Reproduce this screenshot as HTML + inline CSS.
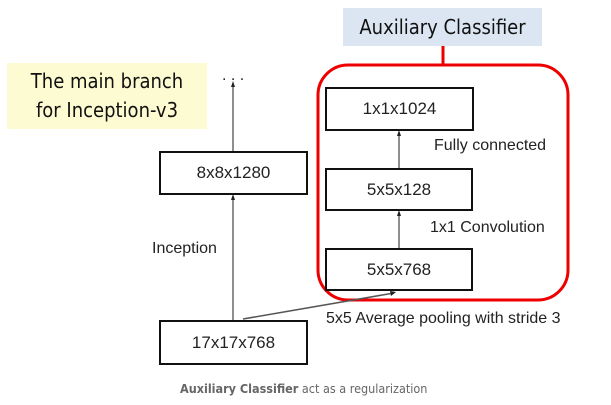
<!DOCTYPE html>
<html><head><style>
body{margin:0;width:611px;height:405px;background:#fff;overflow:hidden;position:relative;font-family:"Liberation Sans",sans-serif}
.a{position:absolute}
.box{position:absolute;border:2.5px solid #111;box-sizing:border-box;display:flex;align-items:center;justify-content:center;font-size:17px;color:#222}
.lbl{position:absolute;font-size:16px;color:#222;white-space:nowrap}
</style></head><body>
<div class="a" style="left:343px;top:8px;width:199px;height:38px;background:#dce6f2;font-size:20px;display:flex;align-items:center;justify-content:center;color:#111;font-family:'DejaVu Sans Condensed','Liberation Sans',sans-serif">Auxiliary Classifier</div>
<div class="a" style="left:7px;top:63px;width:200px;height:66px;background:#fdfbd1;font-size:20px;line-height:29px;text-align:center;padding-top:4px;box-sizing:border-box;color:#111;font-family:'DejaVu Sans Condensed','Liberation Sans',sans-serif">The main branch<br>for Inception-v3</div>
<svg class="a" style="left:0;top:0" width="611" height="405">
<line x1="443" y1="46" x2="443" y2="66" stroke="#e00" stroke-width="3"/>
<rect x="318" y="65" width="250" height="235" rx="30" fill="none" stroke="#e00" stroke-width="3"/>
<line x1="233" y1="151" x2="233" y2="84" stroke="#444" stroke-width="1.2"/>
<polygon points="233,81 231,87 235,87" fill="#222"/>
<line x1="233" y1="320" x2="233" y2="197" stroke="#444" stroke-width="1.2"/>
<polygon points="233,194 231,200 235,200" fill="#222"/>
<line x1="399" y1="168" x2="399" y2="133" stroke="#444" stroke-width="1.2"/>
<polygon points="399,130 397,136 401,136" fill="#222"/>
<line x1="399" y1="248" x2="399" y2="213" stroke="#444" stroke-width="1.2"/>
<polygon points="399,210 397,216 401,216" fill="#222"/>
<line x1="243" y1="319" x2="394" y2="293" stroke="#555" stroke-width="1.5"/>
<polygon points="396,292 390,291 391,296" fill="#222"/>
<text x="222" y="80" font-size="16" fill="#222" font-family="Liberation Sans">. . .</text>
</svg>
<div class="box" style="left:159px;top:151px;width:149px;height:44px">8x8x1280</div>
<div class="box" style="left:159px;top:320px;width:149px;height:45px">17x17x768</div>
<div class="box" style="left:325px;top:87px;width:149px;height:44px">1x1x1024</div>
<div class="box" style="left:325px;top:168px;width:148px;height:43px">5x5x128</div>
<div class="box" style="left:325px;top:248px;width:148px;height:43px">5x5x768</div>
<div class="lbl" style="left:434px;top:137px">Fully connected</div>
<div class="lbl" style="left:430px;top:219px">1x1 Convolution</div>
<div class="lbl" style="left:152px;top:240px">Inception</div>
<div class="lbl" style="left:326px;top:310px">5x5 Average pooling with stride 3</div>
<div class="lbl" style="left:180px;top:381px;font-size:12.5px;color:#666;font-family:'DejaVu Sans Condensed','Liberation Sans',sans-serif"><b>Auxiliary Classifier</b> act as a regularization</div>
</body></html>
